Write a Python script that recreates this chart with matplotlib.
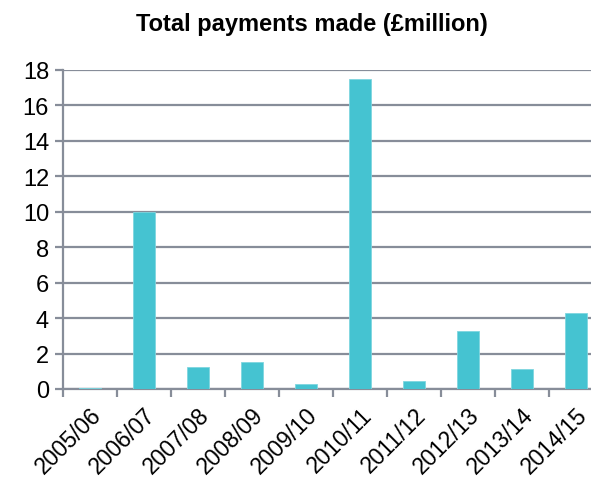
import matplotlib.pyplot as plt
import numpy as np

plt.rcParams['font.family'] = ['Liberation Sans', 'DejaVu Sans']

years = ["2005/06", "2006/07", "2007/08", "2008/09", "2009/10",
         "2010/11", "2011/12", "2012/13", "2013/14", "2014/15"]
payments = [0.05, 10.0, 1.25, 1.5, 0.3, 17.5, 0.45, 3.3, 1.15, 4.3]

grey = "#878d99"
bar_col = "#45c3d1"

fig = plt.figure(figsize=(5.91, 4.81), dpi=100)
ax = fig.add_axes([63/591, 1 - 390/481, 540/591, 319/481])

x = np.arange(len(years))
ax.bar(x, payments, width=0.4, color=bar_col, edgecolor="#7fd6df", linewidth=0.6, zorder=3)

ax.set_xlim(-0.5, len(years) - 0.5)
ax.set_ylim(0, 18)
ax.set_yticks(range(0, 19, 2))
ax.yaxis.grid(True, color=grey, linewidth=1.6, zorder=0)

ax.set_xticks(x)
ax.set_xticklabels(years, rotation=45, ha="right", rotation_mode="anchor", fontsize=16.5)
ax.tick_params(axis="x", which="major", length=0, pad=10)
ax.set_xticks(np.arange(-0.5, len(years), 1), minor=True)
ax.tick_params(axis="x", which="minor", length=6, width=1.6, color=grey)
ax.tick_params(axis="y", length=6, width=1.6, color=grey, labelsize=17, pad=4)

for s in ["top", "right"]:
    ax.spines[s].set_visible(False)
for s in ["left", "bottom"]:
    ax.spines[s].set_color(grey)
    ax.spines[s].set_linewidth(1.6)

fig.text(312/591, 1 - 25/481, "Total payments made (£million)", ha="center", va="center",
         fontsize=17, fontweight="bold")

fig.savefig("out.png", dpi=100)
